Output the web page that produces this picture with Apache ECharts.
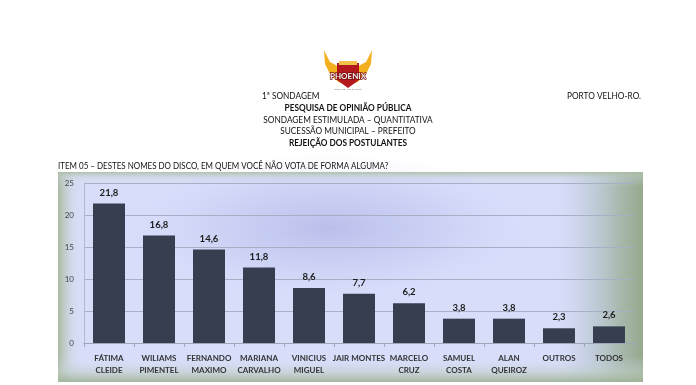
<!DOCTYPE html>
<html>
<head>
<meta charset="utf-8">
<style>html,body{margin:0;padding:0;background:#fff;}#c{width:696px;height:385px;}</style>
<script src="https://cdn.jsdelivr.net/npm/echarts@6/dist/echarts.min.js"></script>
</head>
<body>
<div id="c"></div>
<script>
const categories = ['FÁTIMA\nCLEIDE','WILIAMS\nPIMENTEL','FERNANDO\nMAXIMO','MARIANA\nCARVALHO','VINICIUS\nMIGUEL','JAIR MONTES','MARCELO\nCRUZ','SAMUEL\nCOSTA','ALAN\nQUEIROZ','OUTROS','TODOS'];
const values = [21.8,16.8,14.6,11.8,8.6,7.7,6.2,3.8,3.8,2.3,2.6];
const yTicks = [0,5,10,15,20,25];

const FONT = 'Lato, "Open Sans", sans-serif';
const chart = echarts.init(document.getElementById('c'), null, {renderer:'canvas'});

const headerText = (text, x, y, bold, align, sx) => ({
  type:'text', z:10, x:x, y:y, scaleX:sx||0.87,
  style:{text:text, font:(bold?'bold ':'')+'9.5px '+FONT, fill:'#111', align:align||'center', verticalAlign:'middle'}
});

chart.setOption({
  animation:false,
  graphic:[
    // frame background
    {type:'rect', z:-10, shape:{x:58,y:172,width:585,height:210},
     style:{fill:'#d8defa'}},
    {type:'circle', z:-9, x:330, y:228, scaleX:2.0, scaleY:0.7, shape:{cx:0,cy:0,r:110},
     style:{fill:{type:'radial',x:0.5,y:0.5,r:0.5,colorStops:[{offset:0,color:'rgba(120,125,200,0.32)'},{offset:0.55,color:'rgba(150,158,220,0.16)'},{offset:1,color:'rgba(200,210,245,0)'}]}}},
    {type:'rect', z:-8, shape:{x:58,y:172,width:585,height:210},
     style:{fill:{type:'linear',x:0,y:0,x2:1,y2:0,colorStops:[
       {offset:0,color:'rgba(165,182,150,0.9)'},{offset:0.025,color:'rgba(200,212,215,0.4)'},{offset:0.05,color:'rgba(214,221,250,0)'},
       {offset:0.84,color:'rgba(214,221,250,0)'},{offset:0.9,color:'rgba(185,198,210,0.55)'},{offset:0.96,color:'rgba(160,178,160,0.85)'},{offset:1,color:'rgba(150,168,140,1)'}]}}},
    {type:'rect', z:-7, shape:{x:58,y:172,width:585,height:210},
     style:{fill:{type:'linear',x:0,y:0,x2:0,y2:1,colorStops:[
       {offset:0,color:'rgba(170,188,160,0.85)'},{offset:0.03,color:'rgba(200,212,215,0.35)'},{offset:0.07,color:'rgba(214,221,250,0)'},
       {offset:0.88,color:'rgba(214,221,250,0)'},{offset:0.95,color:'rgba(190,205,195,0.55)'},{offset:1,color:'rgba(160,178,150,0.9)'}]}}},
    // logo
    {type:'polygon', z:5, shape:{points:[[345,70],[330,62],[324,50],[325,64],[331,76],[340,83],[347,80]]}, style:{fill:'#f2b01e'}},
    {type:'polygon', z:5, shape:{points:[[351,70],[366,62],[372,50],[371,64],[365,76],[356,83],[349,80]]}, style:{fill:'#f2b01e'}},
    {type:'polygon', z:6, shape:{points:[[337,63],[359,63],[359,80],[348,88],[337,80]]}, style:{fill:'#b3191d'}},
    {type:'rect', z:6, shape:{x:339,y:61,width:18,height:4}, style:{fill:'#f2c24a'}},
    {type:'text', z:7, x:348, y:76, style:{text:'PHOENIX', font:'bold 8px '+FONT, fill:'#f3f3f3', stroke:'#7a0c10', lineWidth:1.5, align:'center', verticalAlign:'middle'}},
    {type:'text', z:7, x:348, y:89, style:{text:'Desde 1998 - Rede de Opinião', font:'2px '+FONT, fill:'#777', align:'center', verticalAlign:'middle'}},
    // header texts
    headerText('1ª SONDAGEM', 262, 96, false, 'left'),
    headerText('PORTO VELHO-RO.', 567, 96, false, 'left'),
    headerText('PESQUISA DE OPINIÃO PÚBLICA', 348, 108, true),
    headerText('SONDAGEM ESTIMULADA – QUANTITATIVA', 348, 120, false),
    headerText('SUCESSÃO MUNICIPAL – PREFEITO', 348, 131, false),
    headerText('REJEIÇÃO DOS POSTULANTES', 348, 143, true),
    headerText('ITEM 05 – DESTES NOMES DO DISCO, EM QUEM VOCÊ NÃO VOTA DE FORMA ALGUMA?', 58, 166, false, 'left', 0.84)
  ],
  grid:{left:84, right:62, top:183, bottom:42, containLabel:false},
  xAxis:{
    type:'category', data:categories,
    axisLine:{show:true, lineStyle:{color:'#a0a6b6', width:1}},
    axisTick:{show:true, length:4, lineStyle:{color:'#a0a6b6'}},
    axisLabel:{interval:0, color:'#333', fontFamily:FONT, fontSize:8, fontWeight:'bold', lineHeight:12, margin:9}
  },
  yAxis:{
    type:'value', min:0, max:25, interval:5,
    axisLine:{show:true, lineStyle:{color:'#b4bacc'}},
    axisTick:{show:false},
    splitLine:{show:true, lineStyle:{color:'#a8aec4', width:1}},
    axisLabel:{color:'#444', fontFamily:FONT, fontSize:8, margin:10,
      formatter:v => yTicks.includes(v) ? String(v) : ''}
  },
  series:[{
    type:'bar', data:values, barWidth:32,
    itemStyle:{color:'#363f4f'},
    label:{show:true, position:'top', distance:6, color:'#1a1a1a', fontFamily:FONT, fontSize:9.5, fontWeight:'bold',
      formatter:p => String(p.value).replace('.', ',')}
  }]
});
</script>
</body>
</html>
